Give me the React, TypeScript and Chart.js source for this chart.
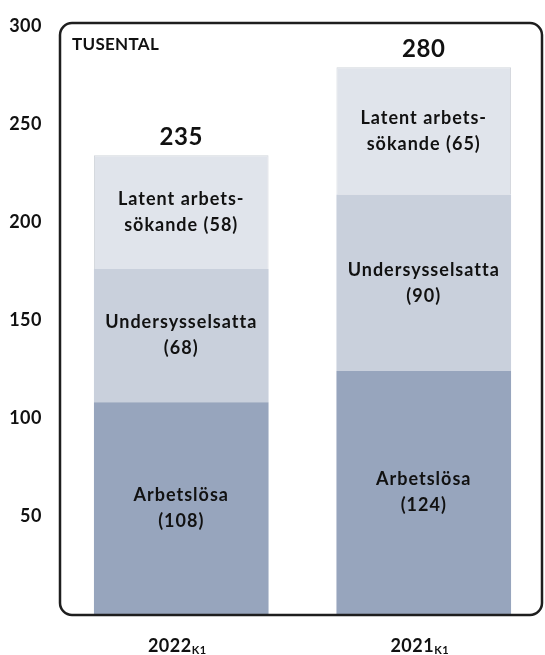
import React, { useEffect, useRef } from "react";
import { Chart, registerables } from "chart.js";

Chart.register(...registerables);

const categories = ["2022", "2021"];
const categorySubs = ["K1", "K1"];
const arbetslosa = [108, 124];
const undersysselsatta = [68, 90];
const latent = [58, 65];
const totals = ["235", "280"];
const arbetslosaLabels = [["Arbetslösa", "(108)"], ["Arbetslösa", "(124)"]];
const underLabels = [["Undersysselsatta", "(68)"], ["Undersysselsatta", "(90)"]];
const latentLabels = [["Latent arbets-", "sökande (58)"], ["Latent arbets-", "sökande (65)"]];
const yTicks = [50, 100, 150, 200, 250, 300];
const unitLabel = "TUSENTAL";

const FONT = "Lato, 'Open Sans', 'Liberation Sans', sans-serif";
const TEXT = "#111111";

const overlayPlugin = {
  id: "overlay",
  afterDatasetsDraw(chart: any) {
    const ctx = chart.ctx;
    const x = chart.scales.x;
    const y = chart.scales.y;
    ctx.save();
    ctx.fillStyle = TEXT;
    // y tick labels
    ctx.textAlign = "right";
    ctx.textBaseline = "middle";
    ctx.font = `bold 18px ${FONT}`;
    (ctx as any).letterSpacing = "0.5px";
    yTicks.forEach((v) => {
      ctx.fillText(String(v), 42, y.getPixelForValue(v));
    });
    // segment labels
    const segLabels = [arbetslosaLabels, underLabels, latentLabels];
    ctx.textAlign = "center";
    ctx.font = `bold 18px ${FONT}`;
    (ctx as any).letterSpacing = "1px";
    for (let d = 0; d < 3; d++) {
      const meta = chart.getDatasetMeta(d);
      meta.data.forEach((bar: any, i: number) => {
        const cy = (bar.y + bar.base) / 2;
        const lines = segLabels[d][i];
        const lh = 26;
        lines.forEach((ln: string, k: number) => {
          ctx.fillText(ln, bar.x, cy + (k - (lines.length - 1) / 2) * lh);
        });
      });
    }
    // totals
    ctx.font = `bold 24px ${FONT}`;
    (ctx as any).letterSpacing = "0.5px";
    const topMeta = chart.getDatasetMeta(2);
    topMeta.data.forEach((bar: any, i: number) => {
      ctx.fillText(totals[i], bar.x, bar.y - 18);
    });
    // rounded frame
    const left = 60, top = 23, right = 542, bottom = 615, r = 12;
    ctx.strokeStyle = "#1e1e1e";
    ctx.lineWidth = 2.5;
    ctx.beginPath();
    ctx.moveTo(left + r, top);
    ctx.lineTo(right - r, top);
    ctx.arcTo(right, top, right, top + r, r);
    ctx.lineTo(right, bottom - r);
    ctx.arcTo(right, bottom, right - r, bottom, r);
    ctx.lineTo(left + r, bottom);
    ctx.arcTo(left, bottom, left, bottom - r, r);
    ctx.lineTo(left, top + r);
    ctx.arcTo(left, top, left + r, top, r);
    ctx.closePath();
    ctx.stroke();
    // unit label
    ctx.textAlign = "left";
    ctx.font = `bold 17px ${FONT}`;
    (ctx as any).letterSpacing = "0.3px";
    ctx.fillText(unitLabel, 72, 45);
    // x category labels with subscript
    categories.forEach((c: string, i: number) => {
      const px = x.getPixelForValue(i) - 4;
      (ctx as any).letterSpacing = "0.5px";
      ctx.font = `bold 18px ${FONT}`;
      const w1 = ctx.measureText(c).width;
      ctx.font = `bold 11px ${FONT}`;
      const w2 = ctx.measureText(categorySubs[i]).width;
      const start = px - (w1 + w2) / 2;
      ctx.textAlign = "left";
      ctx.textBaseline = "alphabetic";
      ctx.font = `bold 18px ${FONT}`;
      ctx.fillText(c, start, 652);
      ctx.font = `bold 11px ${FONT}`;
      ctx.fillText(categorySubs[i], start + w1, 654);
    });
    ctx.restore();
  },
};

export default function App() {
  const ref = useRef<HTMLCanvasElement | null>(null);
  useEffect(() => {
    document.body.style.margin = "0";
    const chart = new Chart(ref.current as HTMLCanvasElement, {
      type: "bar",
      data: {
        labels: categories,
        datasets: [
          { label: "Arbetslösa", data: arbetslosa, backgroundColor: "#97A5BD", borderWidth: 0 },
          { label: "Undersysselsatta", data: undersysselsatta, backgroundColor: "#C9D0DC", borderWidth: 0 },
          { label: "Latent arbetssökande", data: latent, backgroundColor: "#E0E4EB", borderColor: "#D2D6DC", borderWidth: 1 },
        ],
      },
      options: {
        animation: false,
        responsive: false,
        maintainAspectRatio: false,
        devicePixelRatio: 1,
        layout: { padding: { top: 26, bottom: 41, right: 0, left: 0 } },
        plugins: { legend: { display: false }, tooltip: { enabled: false } },
        datasets: { bar: { barPercentage: 0.72, categoryPercentage: 1 } },
        scales: {
          x: {
            stacked: true,
            grid: { display: false, drawTicks: false },
            border: { display: false },
            ticks: { display: false },
          },
          y: {
            stacked: true,
            min: 0,
            max: 300,
            afterFit: (s: any) => { s.width = 60; },
            grid: { display: false, drawTicks: false },
            border: { display: false },
            ticks: { display: false, stepSize: 50 },
          },
        },
      },
      plugins: [overlayPlugin],
    } as any);
    return () => chart.destroy();
  }, []);
  return (
    <div style={{ position: "absolute", left: 0, top: 0, width: 545, height: 655 }}>
      <canvas ref={ref} width={545} height={655} style={{ width: 545, height: 655 }} />
    </div>
  );
}
